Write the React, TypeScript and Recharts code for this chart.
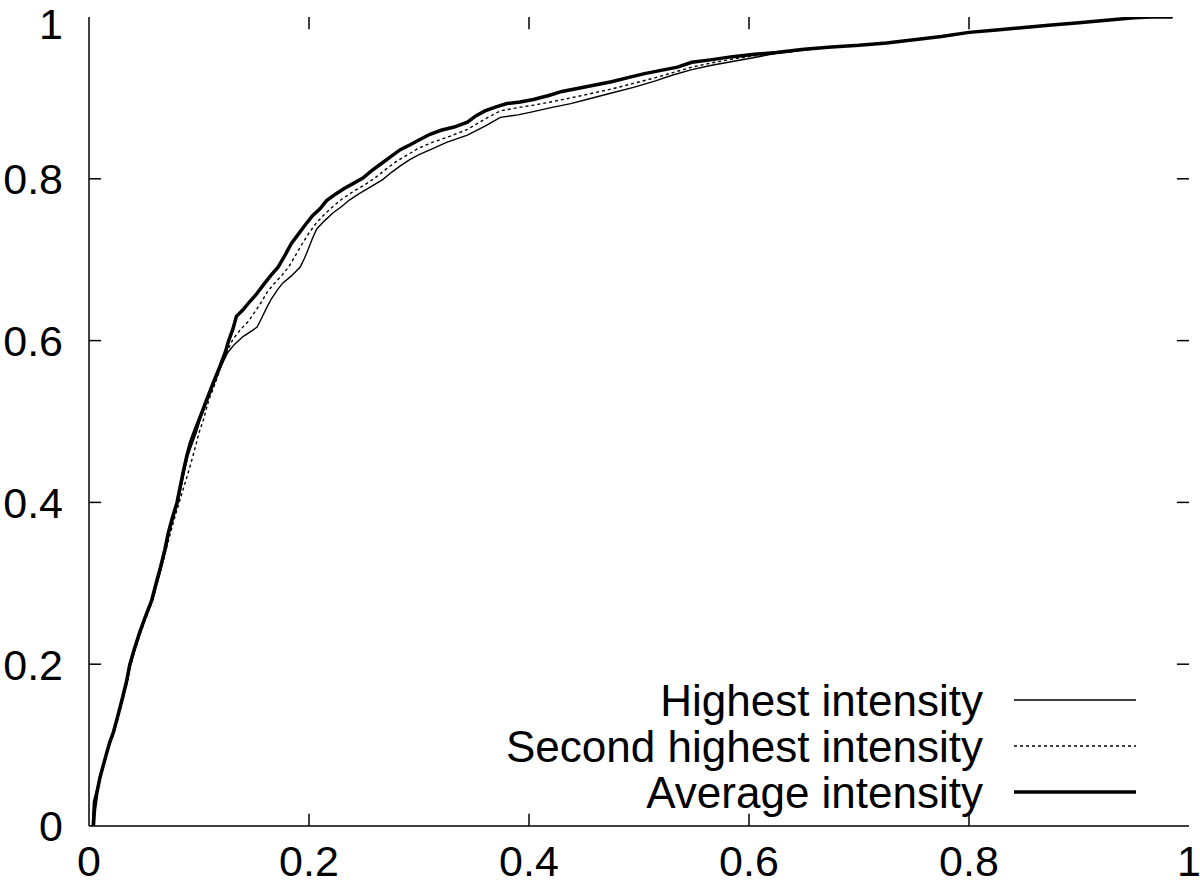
import { LineChart, Line, XAxis, YAxis, ReferenceLine } from 'recharts';

// ROC-style curves, values
const axisTicks = [0, 0.2, 0.4, 0.6, 0.8, 1];

const highestX = [
  0.003, 0.004, 0.007, 0.01, 0.014, 0.017, 0.02, 0.023, 0.027, 0.031, 0.035, 0.038, 0.042, 0.047,
  0.052, 0.058, 0.062, 0.066, 0.07, 0.073, 0.077, 0.081, 0.084, 0.087, 0.09, 0.094, 0.098, 0.101,
  0.108, 0.114, 0.12, 0.126, 0.132, 0.14, 0.148, 0.153, 0.157, 0.162, 0.166, 0.171, 0.176, 0.184,
  0.192, 0.196, 0.199, 0.203, 0.207, 0.214, 0.222, 0.23, 0.237, 0.246, 0.256, 0.267, 0.275, 0.283,
  0.292, 0.3, 0.312, 0.325, 0.344, 0.36, 0.374, 0.39, 0.404, 0.42, 0.438, 0.455, 0.475, 0.495,
  0.515, 0.53, 0.548, 0.565, 0.585, 0.605, 0.625, 0.65, 0.675, 0.7, 0.725, 0.75, 0.775, 0.8,
  0.825, 0.85, 0.875, 0.9, 0.925, 0.95, 0.965, 0.985,
];
const highestY = [
  0, 0.03, 0.045, 0.062, 0.08, 0.093, 0.106, 0.118, 0.138, 0.158, 0.18, 0.2, 0.219, 0.24,
  0.259, 0.28, 0.3, 0.32, 0.342, 0.362, 0.382, 0.4, 0.42, 0.44, 0.458, 0.473, 0.488, 0.502,
  0.527, 0.548, 0.568, 0.585, 0.595, 0.605, 0.612, 0.617, 0.628, 0.642, 0.652, 0.662, 0.671, 0.68,
  0.691, 0.702, 0.712, 0.726, 0.738, 0.748, 0.758, 0.766, 0.774, 0.782, 0.79, 0.799, 0.808, 0.816,
  0.824, 0.83, 0.837, 0.845, 0.854, 0.865, 0.876, 0.879, 0.883, 0.888, 0.893, 0.899, 0.906, 0.913,
  0.921, 0.928, 0.935, 0.94, 0.945, 0.95, 0.955, 0.959, 0.963, 0.965, 0.968, 0.972, 0.976, 0.981,
  0.984, 0.987, 0.99, 0.993, 0.996, 0.999, 1, 1,
];

const secondX = [
  0.004, 0.005, 0.008, 0.011, 0.014, 0.017, 0.02, 0.023, 0.027, 0.031, 0.035, 0.038, 0.042, 0.047,
  0.052, 0.058, 0.062, 0.066, 0.07, 0.074, 0.078, 0.082, 0.086, 0.09, 0.094, 0.097, 0.1, 0.104,
  0.109, 0.115, 0.12, 0.126, 0.131, 0.138, 0.145, 0.15, 0.156, 0.162, 0.168, 0.175, 0.182, 0.188,
  0.194, 0.2, 0.207, 0.214, 0.222, 0.23, 0.24, 0.25, 0.26, 0.27, 0.28, 0.29, 0.3, 0.312,
  0.325, 0.344, 0.36, 0.374, 0.39, 0.404, 0.42, 0.438, 0.455, 0.475, 0.495, 0.515, 0.53, 0.548,
  0.565, 0.585, 0.605, 0.625, 0.65, 0.675, 0.7, 0.725, 0.75, 0.775, 0.8, 0.825, 0.85, 0.875,
  0.9, 0.925, 0.95, 0.965, 0.985,
];
const secondY = [
  0, 0.025, 0.045, 0.062, 0.078, 0.092, 0.105, 0.116, 0.136, 0.157, 0.179, 0.199, 0.218, 0.239,
  0.258, 0.279, 0.3, 0.32, 0.341, 0.362, 0.382, 0.4, 0.418, 0.436, 0.455, 0.47, 0.486, 0.502,
  0.527, 0.548, 0.568, 0.588, 0.602, 0.614, 0.624, 0.634, 0.646, 0.66, 0.67, 0.68, 0.692, 0.706,
  0.72, 0.733, 0.746, 0.756, 0.766, 0.775, 0.784, 0.792, 0.801, 0.812, 0.822, 0.83, 0.838, 0.845,
  0.851, 0.861, 0.874, 0.884, 0.888, 0.891, 0.895, 0.9, 0.905, 0.911, 0.918, 0.925, 0.931, 0.938,
  0.943, 0.948, 0.952, 0.955, 0.959, 0.963, 0.965, 0.968, 0.972, 0.976, 0.981, 0.984, 0.987, 0.99,
  0.993, 0.996, 0.999, 1, 1,
];

const averageX = [
  0.004, 0.005, 0.007, 0.01, 0.013, 0.016, 0.019, 0.022, 0.026, 0.03, 0.034, 0.037, 0.041, 0.046,
  0.051, 0.057, 0.061, 0.065, 0.069, 0.072, 0.076, 0.08, 0.083, 0.086, 0.089, 0.092, 0.096, 0.1,
  0.107, 0.113, 0.119, 0.124, 0.127, 0.131, 0.134, 0.14, 0.146, 0.152, 0.158, 0.165, 0.172, 0.178,
  0.184, 0.19, 0.196, 0.203, 0.21, 0.216, 0.224, 0.232, 0.24, 0.249, 0.257, 0.265, 0.274, 0.283,
  0.292, 0.3, 0.31, 0.32, 0.332, 0.344, 0.352, 0.36, 0.37, 0.38, 0.392, 0.404, 0.418, 0.43,
  0.445, 0.46, 0.475, 0.49, 0.505, 0.52, 0.535, 0.548, 0.565, 0.585, 0.605, 0.625, 0.65, 0.675,
  0.7, 0.725, 0.75, 0.775, 0.8, 0.825, 0.85, 0.875, 0.9, 0.925, 0.95, 0.965, 0.985,
];
const averageY = [
  0, 0.02, 0.04, 0.06, 0.075, 0.09, 0.104, 0.115, 0.135, 0.156, 0.178, 0.199, 0.218, 0.239,
  0.258, 0.279, 0.3, 0.32, 0.342, 0.362, 0.382, 0.4, 0.42, 0.44, 0.458, 0.473, 0.488, 0.502,
  0.527, 0.548, 0.568, 0.586, 0.6, 0.615, 0.63, 0.638, 0.648, 0.657, 0.668, 0.68, 0.691, 0.705,
  0.72, 0.731, 0.742, 0.754, 0.763, 0.773, 0.781, 0.788, 0.794, 0.801, 0.81, 0.818, 0.827, 0.836,
  0.842, 0.848, 0.855, 0.86, 0.864, 0.87, 0.878, 0.884, 0.889, 0.893, 0.895, 0.898, 0.903, 0.908,
  0.912, 0.916, 0.92, 0.925, 0.93, 0.934, 0.938, 0.944, 0.947, 0.951, 0.954, 0.956, 0.96, 0.963,
  0.965, 0.968, 0.972, 0.976, 0.981, 0.984, 0.987, 0.99, 0.993, 0.996, 0.999, 1, 1,
];

const seriesNames = ['Highest intensity', 'Second highest intensity', 'Average intensity'];

const toPoints = (xs: number[], ys: number[]) => xs.map((x, i) => ({ x, y: ys[i] }));

const series = [
  { name: seriesNames[0], data: toPoints(highestX, highestY), width: 1.4, dash: undefined },
  { name: seriesNames[1], data: toPoints(secondX, secondY), width: 1.4, dash: '3 3' },
  { name: seriesNames[2], data: toPoints(averageX, averageY), width: 3.5, dash: undefined },
];

const FONT = '"Liberation Sans", Arial, Helvetica, sans-serif';
const LABEL_SIZE = 43;
// inward tick length, in data units (about 12px on each axis)
const TICK_DX = 0.011;
const TICK_DY = 0.015;

function BottomTick({ x, y, payload }: any) {
  return (
    <text
      x={x}
      y={y + 50}
      textAnchor="middle"
      fontSize={LABEL_SIZE}
      fontFamily={FONT}
      fill="#000"
    >
      {payload.value}
    </text>
  );
}

function LeftTick({ x, y, payload }: any) {
  // keep the top label ("1") from poking above the page edge
  const baseline = Math.max(y + LABEL_SIZE * 0.36, 39);
  return (
    <text
      x={x - 26}
      y={baseline}
      textAnchor="end"
      fontSize={LABEL_SIZE}
      fontFamily={FONT}
      fill="#000"
    >
      {payload.value}
    </text>
  );
}

function LegendOverlay() {
  return (
    <svg
      width={1200}
      height={887}
      style={{ position: 'absolute', left: 0, top: 0, pointerEvents: 'none' }}
    >
      {series.map((s, i) => {
        const cy = 700 + i * 46;
        return (
          <g key={s.name}>
            <text
              x={983}
              y={cy}
              dy="0.36em"
              textAnchor="end"
              fontSize={44}
              fontFamily={FONT}
              fill="#000"
            >
              {s.name}
            </text>
            <line
              x1={1014}
              x2={1136}
              y1={cy}
              y2={cy}
              stroke="#000"
              strokeWidth={s.width}
              strokeDasharray={s.dash}
            />
          </g>
        );
      })}
    </svg>
  );
}

const tickSegments = axisTicks.slice(1, -1).flatMap((t) => [
  [{ x: t, y: 0 }, { x: t, y: TICK_DY }],
  [{ x: t, y: 1 }, { x: t, y: 1 - TICK_DY }],
  [{ x: 0, y: t }, { x: TICK_DX, y: t }],
  [{ x: 1, y: t }, { x: 1 - TICK_DX, y: t }],
]);

export default function App() {
  return (
    <div
      style={{
        position: 'absolute',
        left: 0,
        top: 0,
        width: 1200,
        height: 887,
        background: '#fff',
        fontFamily: FONT,
      }}
    >
      <LineChart width={1200} height={887} margin={{ top: 17, right: 11, bottom: 0, left: 0 }}>
        <XAxis
          xAxisId="b"
          dataKey="x"
          type="number"
          domain={[0, 1]}
          ticks={axisTicks}
          allowDataOverflow
          height={61}
          stroke="#000"
          strokeWidth={1.5}
          tickSize={0}
          tickMargin={0}
          tickLine={false}
          tick={<BottomTick />}
        />
        <XAxis
          xAxisId="t"
          orientation="top"
          type="number"
          domain={[0, 1]}
          ticks={axisTicks}
          height={0}
          stroke="#000"
          strokeWidth={1.5}
          tickLine={false}
          tick={false}
        />
        <YAxis
          yAxisId="l"
          type="number"
          domain={[0, 1]}
          ticks={axisTicks}
          allowDataOverflow
          width={89}
          stroke="#000"
          strokeWidth={1.5}
          tickSize={0}
          tickMargin={0}
          tickLine={false}
          tick={<LeftTick />}
        />
        <YAxis
          yAxisId="r"
          orientation="right"
          type="number"
          domain={[0, 1]}
          ticks={axisTicks}
          width={0}
          stroke="#000"
          strokeWidth={1.5}
          tickLine={false}
          tick={false}
        />
        {tickSegments.map((seg, i) => (
          <ReferenceLine
            key={`tick-${i}`}
            xAxisId="b"
            yAxisId="l"
            segment={seg}
            stroke="#000"
            strokeWidth={1.5}
          />
        ))}
        {series.map((s) => (
          <Line
            key={s.name}
            xAxisId="b"
            yAxisId="l"
            data={s.data}
            dataKey="y"
            name={s.name}
            type="linear"
            stroke="#000"
            strokeWidth={s.width}
            strokeDasharray={s.dash}
            dot={false}
            activeDot={false}
            isAnimationActive={false}
          />
        ))}
      </LineChart>
      <LegendOverlay />
    </div>
  );
}
